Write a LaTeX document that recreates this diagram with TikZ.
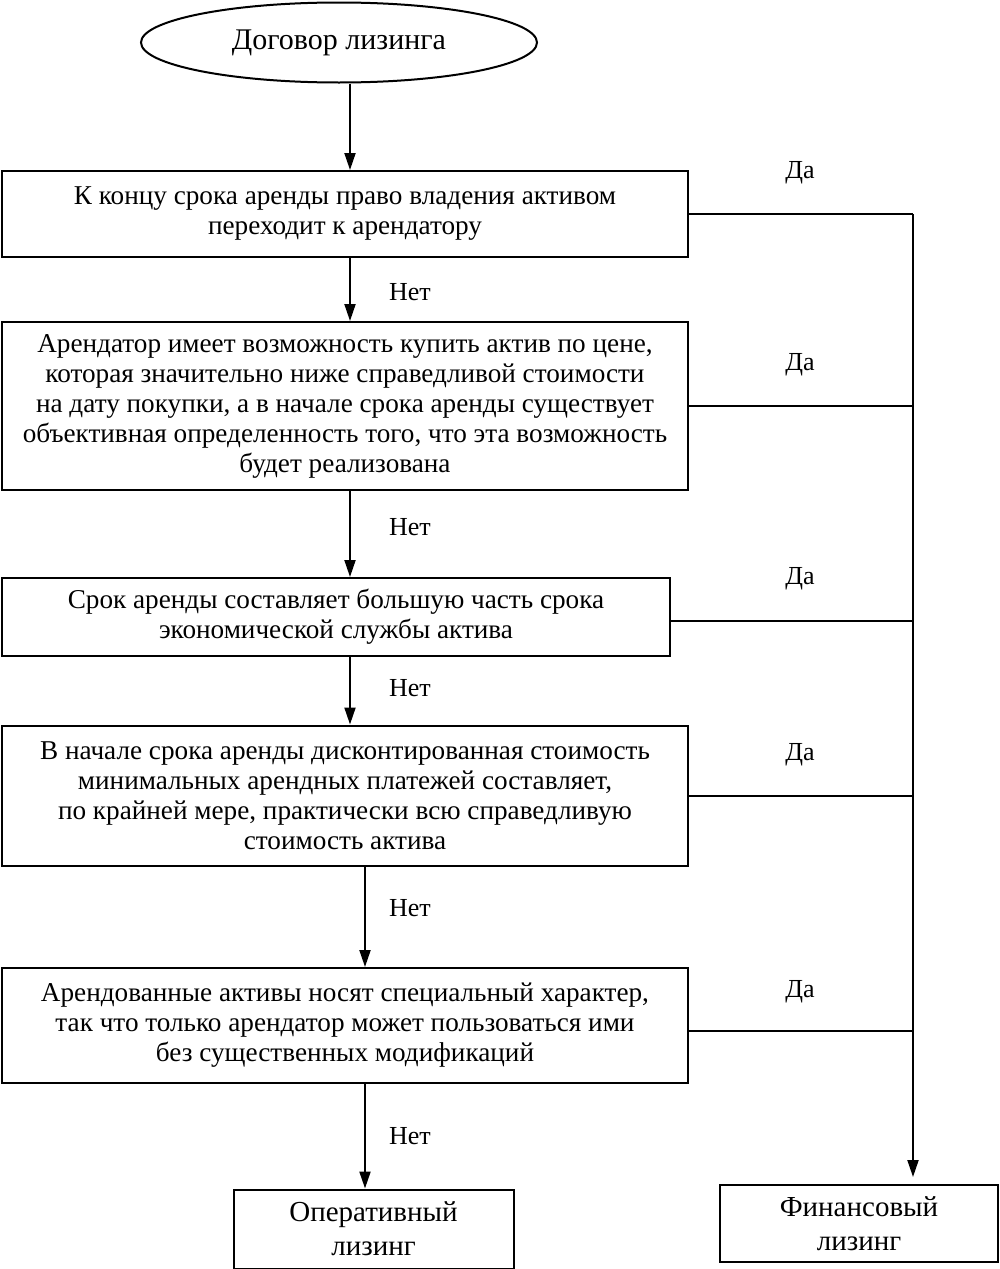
\documentclass[tikz,border=0pt]{standalone}
\usepackage{fontspec}
\setmainfont{Liberation Serif}
\usetikzlibrary{arrows.meta,shapes.geometric}
\begin{document}
\begin{tikzpicture}[x=1pt,y=-1pt,
  line width=2pt,
  txt/.style={font=\fontsize{27.2}{30}\selectfont, align=center, inner sep=0pt},
  box/.style={txt, draw, rectangle},
  arr/.style={-{Triangle[length=17pt,width=11pt]}},
  lbl/.style={font=\fontsize{26}{30}\selectfont, inner sep=0pt}]
\useasboundingbox (0,0) rectangle (1000,1269);
\node[txt, font=\fontsize{30}{34}\selectfont, draw, ellipse, minimum width=396pt, minimum height=80pt] (ell) at (339,42.5) {Договор лизинга};
\node[box, minimum width=686pt, minimum height=86pt] (b1) at (345,214)
  {К концу срока аренды право владения активом\\переходит к арендатору};
\node[box, minimum width=686pt, minimum height=168pt] (b2) at (345,406)
  {Арендатор имеет возможность купить актив по цене,\\которая значительно ниже справедливой стоимости\\на дату покупки, а в начале срока аренды существует\\объективная определенность того, что эта возможность\\будет реализована};
\node[box, minimum width=668pt, minimum height=78pt] (b3) at (336,617)
  {Срок аренды составляет большую часть срока\\экономической службы актива};
\node[box, minimum width=686pt, minimum height=140pt] (b4) at (345,795.5)
  {В начале срока аренды дисконтированная стоимость\\минимальных арендных платежей составляет,\\по крайней мере, практически всю справедливую\\стоимость актива};
\node[box, minimum width=686pt, minimum height=115pt] (b5) at (345,1025.5)
  {Арендованные активы носят специальный характер,\\так что только арендатор может пользоваться ими\\без существенных модификаций};
\node[box, font=\fontsize{29}{34}\selectfont, minimum width=280pt, minimum height=79pt] (b6) at (373.5,1229)
  {Оперативный\\лизинг};
\node[box, font=\fontsize{29}{34}\selectfont, minimum width=278pt, minimum height=77pt] (b7) at (859,1223.5)
  {Финансовый\\лизинг};
\coordinate (xa) at (350,0);
\coordinate (xb) at (365,0);
\coordinate (xr) at (913,0);
\draw[arr] (ell.south -| xa) -- (b1.north -| xa);
\draw[arr] (b1.south -| xa) -- (b2.north -| xa);
\draw[arr] (b2.south -| xa) -- (b3.north -| xa);
\draw[arr] (b3.south -| xa) -- (b4.north -| xa);
\draw[arr] (b4.south -| xb) -- (b5.north -| xb);
\draw[arr] (b5.south -| xb) -- (b6.north -| xb);
\draw (b1.east) -- (b1.east -| xr);
\draw (b2.east) -- (b2.east -| xr);
\draw (b3.east |- 0,621) coordinate (e3) -- (e3 -| xr);
\draw (b4.east) -- (b4.east -| xr);
\draw (b5.east |- 0,1031) coordinate (e5) -- (e5 -| xr);
\draw[arr, shorten >=7pt] (b1.east -| xr) -- (b7.north -| xr);
\node[lbl] (n1) at (410,292) {Нет};
\node[lbl] (n2) at (410,527) {Нет};
\node[lbl] (n3) at (410,688) {Нет};
\node[lbl] (n4) at (410,908) {Нет};
\node[lbl] (n5) at (410,1136) {Нет};
\node[lbl] (d1) at (800,173) {Да};
\node[lbl] (d2) at (800,365) {Да};
\node[lbl] (d3) at (800,579) {Да};
\node[lbl] (d4) at (800,755) {Да};
\node[lbl] (d5) at (800,992) {Да};
\end{tikzpicture}
\end{document}
